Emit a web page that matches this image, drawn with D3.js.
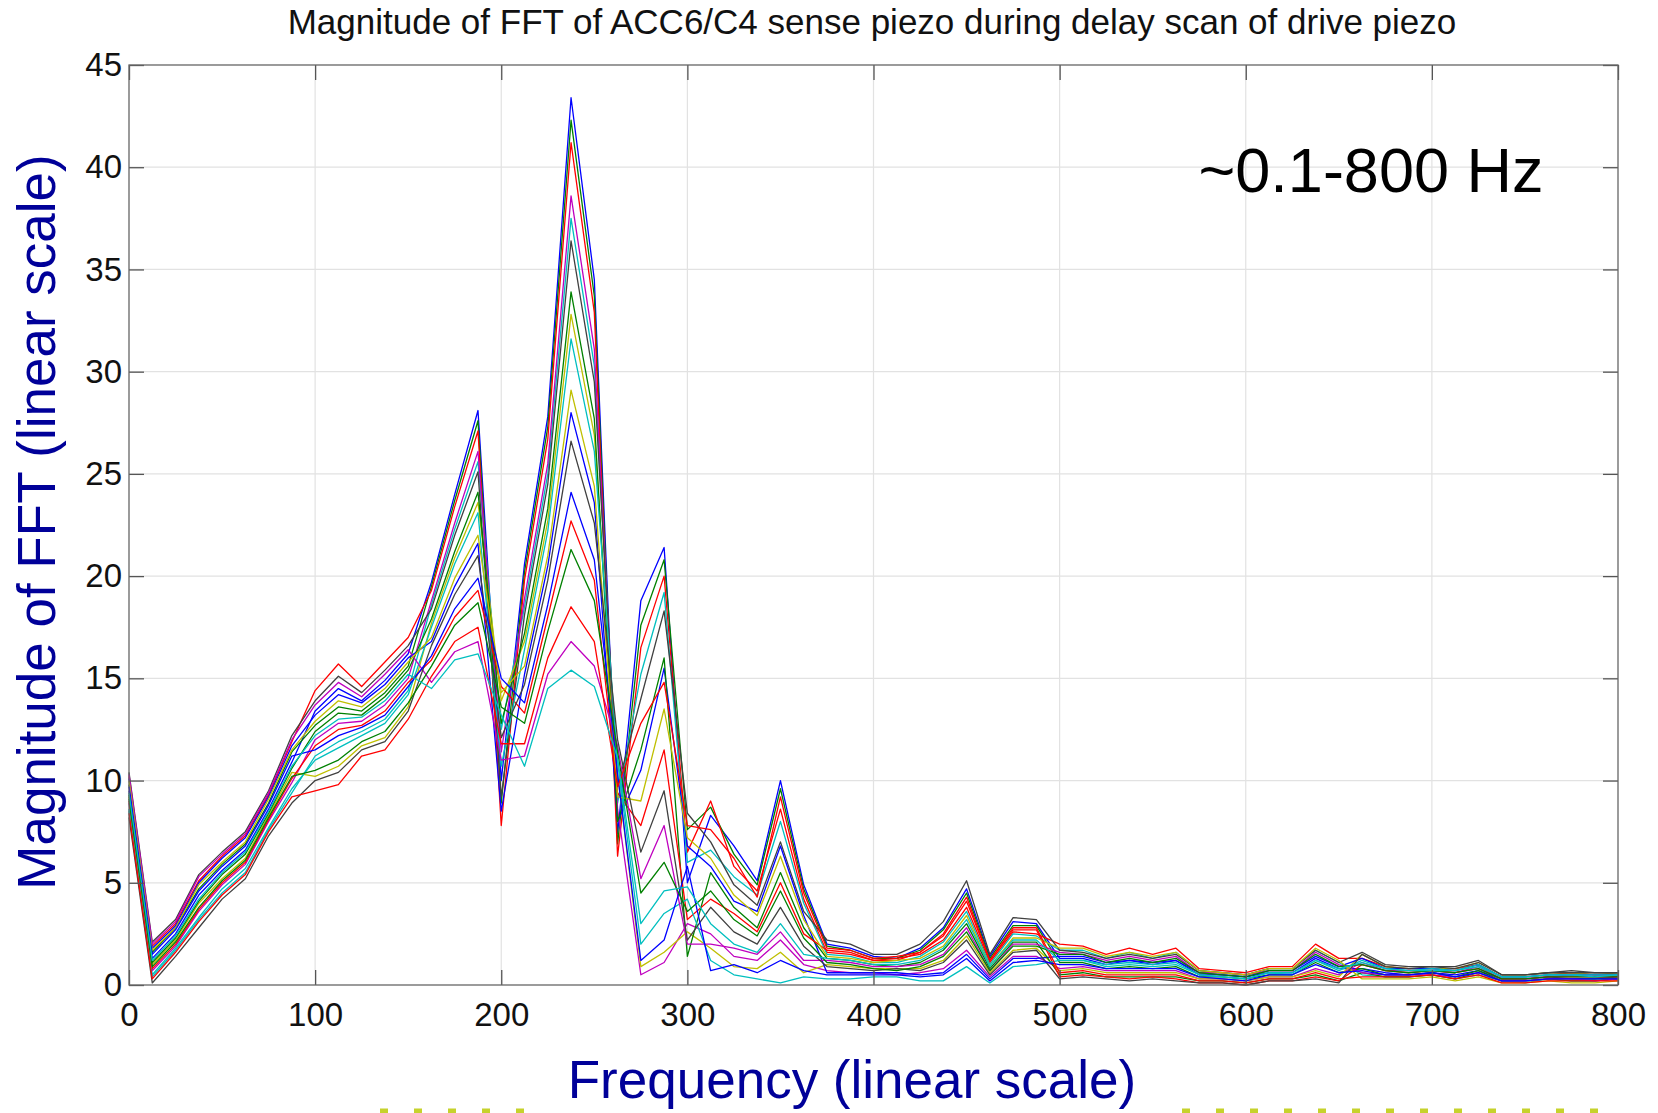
<!DOCTYPE html>
<html lang="en">
<head>
    <meta charset="UTF-8">
    <title>Magnitude of FFT of ACC6/C4 sense piezo</title>
    <style>
        body { margin: 0; background: #fff; }
        svg { display: block; font-family: "Liberation Sans", Arial, Helvetica, sans-serif; }
        .grid line { stroke: #e2e2e2; stroke-width: 1.2px; }
        .axis text { font-size: 33px; fill: #111; }
        .axis line { stroke: #555; stroke-width: 1.3px; }
        .trace { fill: none; stroke-width: 1.3px; stroke-linejoin: round; }
    </style>
    <script src="https://d3js.org/d3.v7.min.js"></script>
</head>
<body>
    <svg id="chart"></svg>

    <script>
        // FFT bin frequencies (Hz)
        const freqHz = [
            0, 12.5, 25, 37.5, 50, 62.5, 75, 87.5, 100, 112.5, 125, 137.5, 150, 162.5, 175, 187.5,
            200, 212.5, 225, 237.5, 250, 262.5, 275, 287.5, 300, 312.5, 325, 337.5, 350, 362.5, 375, 387.5,
            400, 412.5, 425, 437.5, 450, 462.5, 475, 487.5, 500, 512.5, 525, 537.5, 550, 562.5, 575, 587.5,
            600, 612.5, 625, 637.5, 650, 662.5, 675, 687.5, 700, 712.5, 725, 737.5, 750, 762.5, 775, 787.5, 800
        ];

        // one FFT magnitude trace per delay step
        const scan01 = [9.5, 1.3, 2.5, 4.4, 5.6, 6.6, 8.6, 10.9, 13.4, 14.5, 13.9, 14.9, 16.2, 19.7, 24.0, 28.1, 10.0, 20.6, 27.8, 43.4, 34.5, 7.4, 18.8, 21.4, 5.0, 8.3, 6.8, 5.1, 10.0, 4.9, 2.0, 1.8, 1.4, 1.3, 1.8, 2.8, 4.7, 1.4, 3.1, 3.0, 1.3, 1.3, 1.0, 1.2, 1.0, 1.2, 0.5, 0.5, 0.4, 0.6, 0.6, 1.3, 0.8, 0.8, 0.6, 0.5, 0.6, 0.5, 0.7, 0.3, 0.3, 0.4, 0.3, 0.3, 0.4];
        const scan02 = [10.2, 1.9, 3.0, 5.1, 6.3, 7.3, 9.3, 11.9, 14.4, 15.7, 14.6, 15.8, 17.0, 19.3, 23.4, 27.1, 7.8, 19.8, 26.7, 41.2, 32.9, 6.3, 16.5, 20.0, 6.5, 9.0, 5.8, 4.6, 8.6, 4.2, 1.6, 1.5, 1.2, 1.3, 1.5, 2.2, 3.8, 1.1, 2.6, 2.5, 2.0, 1.9, 1.5, 1.8, 1.5, 1.8, 0.8, 0.7, 0.6, 0.9, 0.9, 2.0, 1.3, 1.3, 0.9, 0.8, 0.8, 0.8, 1.0, 0.4, 0.4, 0.5, 0.6, 0.5, 0.5];
        const scan03 = [8.9, 0.7, 1.9, 3.6, 4.9, 5.9, 8.0, 9.9, 12.0, 12.8, 12.9, 13.7, 15.0, 18.8, 22.6, 26.1, 11.4, 18.9, 25.5, 38.6, 31.1, 8.6, 0.5, 1.1, 3.0, 2.5, 1.4, 1.2, 2.2, 1.0, 0.7, 0.6, 0.6, 0.5, 0.6, 0.8, 1.7, 0.4, 1.4, 1.4, 0.8, 0.9, 0.7, 0.7, 0.7, 0.7, 0.3, 0.3, 0.2, 0.4, 0.4, 0.8, 0.5, 1.1, 0.7, 0.7, 0.7, 0.6, 0.9, 0.3, 0.3, 0.4, 0.5, 0.4, 0.4];
        const scan04 = [10.4, 2.1, 3.2, 5.4, 6.5, 7.5, 9.5, 12.2, 13.9, 15.1, 14.3, 15.4, 16.6, 18.4, 22.0, 25.1, 9.2, 18.1, 24.5, 36.4, 29.5, 9.7, 14.0, 18.3, 8.4, 7.0, 4.9, 3.9, 7.0, 3.6, 2.2, 2.0, 1.5, 1.5, 2.0, 3.1, 5.1, 1.5, 3.3, 3.2, 1.7, 1.6, 1.3, 1.5, 1.3, 1.5, 0.7, 0.6, 0.5, 0.8, 0.8, 1.7, 1.1, 1.6, 1.0, 0.9, 0.9, 0.9, 1.2, 0.5, 0.5, 0.6, 0.7, 0.6, 0.6];
        const scan05 = [9.3, 1.1, 2.3, 4.1, 5.4, 6.4, 8.4, 10.6, 12.4, 13.3, 13.2, 14.1, 15.4, 17.9, 21.2, 24.1, 12.8, 17.2, 23.3, 33.9, 27.7, 8.0, 11.5, 16.0, 1.4, 5.5, 3.8, 2.8, 5.5, 2.8, 1.3, 1.2, 1.0, 0.9, 1.1, 1.7, 3.0, 0.8, 2.1, 2.1, 0.5, 0.6, 0.4, 0.4, 0.4, 0.4, 0.2, 0.2, 0.1, 0.3, 0.3, 0.5, 0.2, 0.6, 0.4, 0.4, 0.5, 0.3, 0.6, 0.2, 0.2, 0.3, 0.2, 0.2, 0.3];
        const scan06 = [8.6, 0.5, 1.8, 3.3, 4.7, 5.7, 7.7, 9.6, 11.0, 11.6, 12.2, 12.8, 14.2, 17.5, 20.6, 23.1, 10.7, 16.4, 22.2, 31.6, 26.1, 10.9, 2.0, 3.5, 4.2, 1.2, 0.5, 0.3, 0.1, 0.4, 0.3, 0.3, 0.4, 0.4, 0.2, 0.2, 0.9, 0.1, 0.9, 1.0, 1.2, 1.2, 0.9, 1.0, 0.9, 1.0, 0.5, 0.4, 0.3, 0.6, 0.5, 1.2, 0.7, 1.2, 0.8, 0.7, 0.8, 0.7, 1.0, 0.4, 0.4, 0.5, 0.5, 0.5, 0.5];
        const scan07 = [10.0, 1.7, 2.8, 4.9, 6.0, 7.0, 9.1, 11.5, 12.9, 13.9, 13.6, 14.5, 15.8, 17.0, 19.9, 22.0, 14.3, 15.6, 21.0, 29.1, 24.4, 9.2, 9.0, 13.5, 7.2, 6.2, 4.4, 3.4, 6.3, 3.2, 1.4, 1.3, 1.1, 1.2, 1.3, 1.9, 3.4, 0.9, 2.3, 2.3, 1.8, 1.8, 1.4, 1.6, 1.4, 1.6, 0.7, 0.6, 0.5, 0.8, 0.8, 1.8, 1.2, 0.3, 0.3, 0.3, 0.4, 0.2, 0.4, 0.1, 0.1, 0.2, 0.1, 0.1, 0.2];
        const scan08 = [8.2, 0.1, 1.4, 2.8, 4.2, 5.2, 7.3, 8.9, 10.0, 10.4, 11.5, 11.9, 13.4, 16.6, 19.1, 21.0, 12.1, 14.7, 19.8, 26.6, 22.6, 12.0, 6.5, 9.5, 2.2, 3.8, 2.6, 2.0, 3.8, 1.9, 0.9, 0.8, 0.7, 0.8, 0.7, 1.1, 2.2, 0.5, 1.6, 1.7, 0.3, 0.4, 0.3, 0.2, 0.3, 0.2, 0.1, 0.1, 0.0, 0.2, 0.2, 0.3, 0.1, 1.5, 0.9, 0.8, 0.9, 0.8, 1.1, 0.5, 0.5, 0.6, 0.6, 0.6, 0.6];
        const scan09 = [9.7, 1.5, 2.7, 4.6, 5.8, 6.8, 8.8, 11.2, 11.5, 12.2, 12.6, 13.2, 14.6, 16.1, 18.4, 19.9, 15.0, 13.8, 18.6, 24.1, 20.8, 10.3, 1.2, 2.2, 5.8, 0.7, 1.0, 0.6, 1.2, 0.7, 0.5, 0.5, 0.5, 0.5, 0.4, 0.5, 1.3, 0.2, 1.1, 1.2, 1.0, 1.0, 0.8, 0.8, 0.8, 0.8, 0.4, 0.3, 0.2, 0.5, 0.5, 1.0, 0.6, 0.7, 0.5, 0.5, 0.6, 0.4, 0.6, 0.2, 0.2, 0.3, 0.3, 0.3, 0.3];
        const scan10 = [9.1, 0.9, 2.1, 3.8, 5.1, 6.1, 8.2, 10.2, 10.5, 11.0, 11.9, 12.4, 13.8, 15.6, 17.6, 18.7, 13.6, 12.8, 17.3, 21.3, 18.8, 11.4, 4.5, 6.0, 3.6, 4.6, 3.2, 2.4, 4.6, 2.3, 1.1, 1.0, 0.8, 0.7, 0.9, 1.4, 2.6, 0.7, 1.9, 1.9, 1.5, 1.5, 1.1, 1.3, 1.1, 1.3, 0.6, 0.5, 0.4, 0.7, 0.7, 1.5, 0.9, 1.0, 0.7, 0.6, 0.7, 0.6, 0.8, 0.3, 0.3, 0.4, 0.4, 0.4, 0.4];
        const scan11 = [8.4, 0.3, 1.6, 3.1, 4.4, 5.4, 7.5, 9.2, 9.5, 9.8, 11.2, 11.5, 13.0, 15.1, 16.8, 17.5, 11.8, 11.8, 16.0, 18.5, 16.8, 9.7, 12.8, 14.8, 7.8, 7.6, 6.2, 4.3, 9.2, 4.5, 1.8, 1.7, 1.3, 1.4, 1.6, 2.5, 4.3, 1.2, 2.8, 2.8, 0.6, 0.7, 0.5, 0.5, 0.5, 0.5, 0.2, 0.2, 0.1, 0.3, 0.3, 0.6, 0.3, 0.4, 0.4, 0.4, 0.5, 0.3, 0.5, 0.1, 0.1, 0.2, 0.2, 0.2, 0.2];
        const scan12 = [9.4, 1.2, 2.4, 4.2, 5.5, 6.5, 8.5, 10.7, 12.2, 13.0, 13.1, 13.9, 15.2, 14.5, 15.9, 16.2, 13.2, 10.7, 14.5, 15.4, 14.6, 11.1, 3.0, 4.6, 4.8, 3.0, 2.0, 1.6, 3.0, 1.5, 1.3, 1.2, 1.0, 1.0, 1.2, 1.8, 3.2, 0.9, 2.2, 2.2, 1.2, 1.2, 1.0, 1.1, 1.0, 1.1, 0.5, 0.4, 0.3, 0.6, 0.6, 1.2, 0.8, 1.1, 0.8, 0.7, 0.7, 0.7, 0.9, 0.4, 0.4, 0.5, 0.5, 0.4, 0.5];
        const scan13 = [9.8, 1.6, 2.8, 4.7, 5.9, 6.9, 8.9, 11.4, 12.7, 13.6, 13.4, 14.3, 15.6, 19.5, 23.7, 27.6, 8.9, 20.2, 27.3, 42.3, 33.7, 6.9, 17.6, 20.8, 7.6, 8.7, 6.4, 4.9, 9.6, 4.7, 1.9, 1.7, 1.3, 1.3, 1.7, 2.7, 4.5, 1.3, 2.9, 2.9, 1.1, 1.1, 0.8, 0.9, 0.8, 0.9, 0.4, 0.4, 0.3, 0.5, 0.5, 1.1, 0.6, 0.8, 0.5, 0.5, 0.6, 0.4, 0.7, 0.2, 0.2, 0.3, 0.3, 0.3, 0.3];
        const scan14 = [8.5, 0.4, 1.7, 3.2, 4.5, 5.5, 7.6, 9.4, 11.2, 11.9, 12.4, 13.0, 14.4, 18.6, 22.3, 25.6, 12.5, 18.5, 25.0, 37.5, 30.3, 8.9, 15.2, 19.2, 6.0, 6.6, 5.3, 4.4, 8.0, 4.0, 1.5, 1.4, 1.1, 1.1, 1.4, 2.1, 3.6, 1.0, 2.5, 2.4, 1.7, 1.7, 1.3, 1.6, 1.3, 1.6, 0.7, 0.6, 0.5, 0.8, 0.8, 1.7, 1.1, 0.5, 0.4, 0.4, 0.5, 0.3, 0.5, 0.2, 0.1, 0.3, 0.2, 0.2, 0.3];
        const scan15 = [9.2, 1.0, 2.2, 4.0, 5.2, 6.2, 8.3, 10.4, 10.2, 10.7, 11.7, 12.1, 13.6, 17.7, 20.9, 23.6, 13.9, 16.8, 22.7, 32.8, 26.9, 10.3, 0.9, 1.6, 2.6, 1.8, 0.9, 0.8, 1.6, 0.6, 1.0, 0.9, 0.8, 0.8, 0.8, 1.2, 2.4, 0.6, 1.7, 1.8, 0.7, 0.8, 0.6, 0.6, 0.6, 0.6, 0.3, 0.3, 0.2, 0.4, 0.4, 0.7, 0.4, 1.5, 0.9, 0.8, 0.8, 0.8, 1.1, 0.5, 0.5, 0.6, 0.6, 0.5, 0.6];
        const scan16 = [10.1, 1.8, 2.9, 5.0, 6.2, 7.2, 9.2, 11.7, 13.2, 14.2, 13.8, 14.7, 16.0, 16.8, 19.5, 21.6, 8.5, 15.2, 20.5, 28.0, 23.6, 8.0, 10.5, 15.5, 6.8, 5.8, 4.1, 3.6, 6.8, 3.4, 0.6, 0.6, 0.6, 0.6, 0.5, 0.6, 1.5, 0.3, 1.3, 1.3, 1.4, 1.4, 1.1, 1.2, 1.1, 1.2, 0.6, 0.5, 0.4, 0.7, 0.7, 1.4, 0.9, 1.3, 0.8, 0.8, 0.8, 0.7, 1.0, 0.4, 0.4, 0.5, 0.5, 0.5, 0.5];
        const scan17 = [9.0, 0.8, 2.0, 3.7, 5.0, 6.0, 8.1, 10.1, 11.7, 12.5, 12.7, 13.4, 14.8, 15.9, 18.0, 19.3, 14.6, 13.3, 18.0, 22.7, 19.8, 9.4, 7.8, 11.5, 3.2, 4.2, 3.5, 2.6, 5.0, 2.5, 1.7, 1.6, 1.2, 1.2, 1.6, 2.4, 4.1, 1.2, 2.7, 2.7, 0.4, 0.5, 0.4, 0.3, 0.4, 0.3, 0.1, 0.1, 0.0, 0.2, 0.2, 0.4, 0.2, 1.0, 0.7, 0.6, 0.7, 0.6, 0.8, 0.3, 0.3, 0.4, 0.4, 0.4, 0.4];
        const scan18 = [10.3, 2.0, 3.1, 5.3, 6.4, 7.4, 9.4, 12.0, 13.7, 14.8, 14.1, 15.2, 16.4, 14.8, 16.3, 16.8, 11.0, 11.2, 15.2, 16.8, 15.6, 11.7, 5.2, 7.8, 2.0, 2.0, 1.8, 1.5, 2.6, 1.2, 1.2, 1.1, 0.9, 0.9, 1.0, 1.5, 2.8, 0.7, 2.0, 2.0, 1.6, 1.5, 1.2, 1.4, 1.2, 1.4, 0.6, 0.6, 0.5, 0.7, 0.7, 1.6, 1.0, 0.6, 0.5, 0.5, 0.5, 0.4, 0.6, 0.2, 0.2, 0.3, 0.3, 0.2, 0.3];

        const scans = [scan01, scan13, scan02, scan14, scan03, scan15, scan04, scan16, scan05, scan17,
                       scan06, scan18, scan07, scan08, scan09, scan10, scan11, scan12];

        const xTicks = [0, 100, 200, 300, 400, 500, 600, 700, 800];
        const yTicks = [0, 5, 10, 15, 20, 25, 30, 35, 40, 45];

        // MATLAB default line colour order
        const lineColors = ["#0000ff", "#008000", "#ff0000", "#00bfbf", "#bf00bf", "#bfbf00", "#404040"];

        const width = 1658;
        const height = 1113;
        const plotLeft = 129, plotRight = 1618, plotTop = 65, plotBottom = 985;

        const svg = d3.select("#chart")
            .attr("width", width)
            .attr("height", height);

        const x = d3.scaleLinear().domain([0, 800]).range([plotLeft, plotRight]);
        const y = d3.scaleLinear().domain([0, 45]).range([plotBottom, plotTop]);

        // grid
        const grid = svg.append("g").attr("class", "grid");
        grid.selectAll(".gx")
            .data(xTicks.slice(1, -1))
            .enter().append("line")
            .attr("x1", d => x(d)).attr("x2", d => x(d))
            .attr("y1", plotTop).attr("y2", plotBottom);
        grid.selectAll(".gy")
            .data(yTicks.slice(1, -1))
            .enter().append("line")
            .attr("x1", plotLeft).attr("x2", plotRight)
            .attr("y1", d => y(d)).attr("y2", d => y(d));

        // traces
        const line = d3.line()
            .x((d, i) => x(freqHz[i]))
            .y(d => y(d));

        svg.append("g")
            .selectAll("path")
            .data(scans)
            .enter().append("path")
            .attr("class", "trace")
            .attr("stroke", (d, i) => lineColors[i % lineColors.length])
            .attr("d", line);

        // axes, ticks pointing inward
        const tick = 15;
        svg.append("g")
            .attr("class", "axis")
            .attr("transform", `translate(0,${plotBottom})`)
            .call(d3.axisBottom(x).tickValues(xTicks).tickSize(-tick).tickPadding(18))
            .call(g => g.select(".domain").remove());
        svg.append("g")
            .attr("class", "axis")
            .attr("transform", `translate(0,${plotTop})`)
            .call(d3.axisTop(x).tickValues(xTicks).tickSize(-tick).tickFormat(""))
            .call(g => g.select(".domain").remove());
        svg.append("g")
            .attr("class", "axis")
            .attr("transform", `translate(${plotLeft},0)`)
            .call(d3.axisLeft(y).tickValues(yTicks).tickSize(-tick).tickPadding(7))
            .call(g => g.select(".domain").remove());
        svg.append("g")
            .attr("class", "axis")
            .attr("transform", `translate(${plotRight},0)`)
            .call(d3.axisRight(y).tickValues(yTicks).tickSize(-tick).tickFormat(""))
            .call(g => g.select(".domain").remove());

        svg.append("rect")
            .attr("x", plotLeft).attr("y", plotTop)
            .attr("width", plotRight - plotLeft).attr("height", plotBottom - plotTop)
            .attr("fill", "none")
            .attr("stroke", "#666")
            .attr("stroke-width", 1.3);

        // texts
        svg.append("text")
            .attr("x", 872).attr("y", 34)
            .attr("text-anchor", "middle")
            .attr("font-size", 35)
            .attr("fill", "#111")
            .text("Magnitude of FFT of ACC6/C4 sense piezo during delay scan of drive piezo");

        svg.append("text")
            .attr("x", 1371).attr("y", 192)
            .attr("text-anchor", "middle")
            .attr("font-size", 63)
            .attr("fill", "#000")
            .text("~0.1-800 Hz");

        svg.append("text")
            .attr("transform", "translate(55,522) rotate(-90)")
            .attr("text-anchor", "middle")
            .attr("font-size", 53)
            .attr("fill", "#000099")
            .text("Magnitude of FFT (linear scale)");

        svg.append("text")
            .attr("x", 852).attr("y", 1098)
            .attr("text-anchor", "middle")
            .attr("font-size", 53)
            .attr("fill", "#000099")
            .text("Frequency (linear scale)");

        // slide footer dashes
        const dash = svg.append("g")
            .attr("stroke", "#c6d22c")
            .attr("stroke-width", 5)
            .attr("stroke-dasharray", "8,26");
        dash.append("line").attr("x1", 380).attr("x2", 545).attr("y1", 1111).attr("y2", 1111);
        dash.append("line").attr("x1", 1182).attr("x2", 1600).attr("y1", 1111).attr("y2", 1111);
    </script>
</body>
</html>
